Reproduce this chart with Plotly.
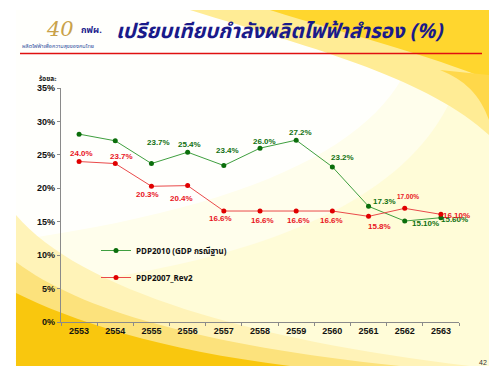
import plotly.graph_objects as go

# ---------------- data ----------------
years = ["2553", "2554", "2555", "2556", "2557", "2558", "2559", "2560", "2561", "2562", "2563"]
pdp2010 = [28.1, 27.1, 23.7, 25.4, 23.4, 26.0, 27.2, 23.2, 17.3, 15.10, 15.60]
pdp2007 = [24.0, 23.7, 20.3, 20.4, 16.6, 16.6, 16.6, 16.6, 15.8, 17.00, 16.10]
pdp2010_labels = ["", "", "23.7%", "25.4%", "23.4%", "26.0%", "27.2%", "23.2%", "17.3%", "15.10%", "15.60%"]
pdp2007_labels = ["24.0%", "23.7%", "20.3%", "20.4%", "16.6%", "16.6%", "16.6%", "16.6%", "15.8%", "17.00%", "16.10%"]
series_names = ["PDP2010 (GDP กรณีฐาน)", "PDP2007_Rev2"]
y_ticks = [0, 5, 10, 15, 20, 25, 30, 35]
y_ticktext = [f"{v}%" for v in y_ticks]

# ---------------- style ----------------
OFF = 8                      # page body margin of the browser
W, H = 500 - OFF, 372 - OFF
L, R, T, B = 61, 459, 88, 322   # plot area in screen pixels
GREEN_LINE, GREEN_MK, GREEN_TXT = "#3f9f3f", "#0b6e0b", "#117011"
RED_LINE, RED_MK, RED_TXT = "#ea4a4a", "#e00000", "#e8141e"
LBL_FONT = "Liberation Sans, Arial, sans-serif"
THAI_FONT = "Noto Sans Thai, Tahoma, Loma, Garuda, DejaVu Sans, sans-serif"

# label offsets in pixels (xshift, yshift)
g_off = [(0, 0), (0, 0), (7, 21), (2, 8), (4, 15), (4, 7), (4, 8), (10, 9), (16, 5), (21, -2), (14, -2)]
r_off = [(2, 8), (6, 7), (-4, -8), (-6, -13), (-3, -7), (2, -9), (2, -9), (-1, -9), (11, -10), (3, 12), (16, -1)]
r_size = [8, 8, 8, 8, 8, 8, 8, 8, 8, 6.5, 8]


def px(x):
    return (x - L) / (R - L)


def py(y):
    return (B - y) / (B - T)


def path(cmds):
    out = []
    for c, pts in cmds:
        out.append(c + " ".join(f"{px(x):.4f},{py(y):.4f}" for x, y in pts))
    return " ".join(out) + " Z"


fig = go.Figure()

fig.add_trace(go.Scatter(
    x=years, y=pdp2010, mode="lines+markers", name=series_names[0],
    line=dict(color=GREEN_LINE, width=1), marker=dict(color=GREEN_MK, size=5),
    legendgroup="a", cliponaxis=False,
))
fig.add_trace(go.Scatter(
    x=years, y=pdp2007, mode="lines+markers", name=series_names[1],
    line=dict(color=RED_LINE, width=1), marker=dict(color=RED_MK, size=5),
    legendgroup="b", cliponaxis=False,
))

annotations = []
for i in range(len(years)):
    if pdp2010_labels[i]:
        annotations.append(dict(
            x=i, y=pdp2010[i], xref="x", yref="y", text=pdp2010_labels[i], showarrow=False,
            xanchor="center", yanchor="middle",
            xshift=g_off[i][0], yshift=g_off[i][1],
            font=dict(family=LBL_FONT, size=8, color=GREEN_TXT, weight="bold")))
    annotations.append(dict(
        x=i, y=pdp2007[i], xref="x", yref="y", text=pdp2007_labels[i], showarrow=False,
        xanchor="center", yanchor="middle",
        xshift=r_off[i][0], yshift=r_off[i][1],
        font=dict(family=LBL_FONT, size=r_size[i], color=RED_TXT, weight="bold")))


def ptext(x, y, text, font):
    return dict(x=px(x), y=py(y), xref="paper", yref="paper", text=text, showarrow=False,
                xanchor="center", yanchor="middle", font=font)


annotations += [
    ptext(280, 32, "<b><i>เปรียบเทียบกำลังผลิตไฟฟ้าสำรอง (%)</i></b>",
          dict(family=THAI_FONT, size=20.5, color="#1a1a8a")),
    ptext(60, 29, "<i>40</i>", dict(family="DejaVu Serif, serif", size=21, color="#c9a24a")),
    ptext(91, 30, "<b>กฟผ.</b>", dict(family=THAI_FONT, size=9, color="#1c1c8c")),
    ptext(58, 46, "ผลิตไฟฟ้าเพื่อความสุขของคนไทย", dict(family=THAI_FONT, size=5.5, color="#3050a0")),
    ptext(48, 79, "<b>ร้อยละ</b>", dict(family=THAI_FONT, size=6.5, color="#222")),
    ptext(483, 362, "42", dict(family=LBL_FONT, size=7, color="#333")),
]

shapes = [
    # slide background
    dict(type="rect", xref="paper", yref="paper", x0=px(16), x1=px(489), y0=py(366), y1=py(10),
         fillcolor="#fffcd8", line_width=0, layer="below"),
    # white wash over upper-left
    dict(type="path", xref="paper", yref="paper", layer="below", line_width=0, fillcolor="rgba(255,255,255,0.85)",
         path=path([("M", [(16, 10)]), ("L", [(420, 10)]), ("C", [(420, 120), (300, 200), (16, 240)])])),
    dict(type="path", xref="paper", yref="paper", layer="below", line_width=0, fillcolor="rgba(255,255,255,0.5)",
         path=path([("M", [(16, 10)]), ("L", [(470, 10)]), ("C", [(470, 180), (300, 260), (16, 290)])])),
    # top right gold
    dict(type="path", xref="paper", yref="paper", layer="below", line_width=0, fillcolor="#ffec95",
         path=path([("M", [(190, 10)]), ("L", [(489, 10)]), ("L", [(489, 135)]), ("C", [(430, 80), (320, 50), (190, 10)])])),
    dict(type="path", xref="paper", yref="paper", layer="below", line_width=0, fillcolor="#ffd62e",
         path=path([("M", [(270, 10)]), ("L", [(489, 10)]), ("L", [(489, 80)]), ("C", [(430, 55), (350, 35), (270, 10)])])),
    dict(type="path", xref="paper", yref="paper", layer="below", line_width=0, fillcolor="#ffd84a",
         path=path([("M", [(440, 70)]), ("C", [(465, 80), (480, 95), (489, 120)]), ("L", [(489, 75)])])),
    # lower-left swooshes
    dict(type="path", xref="paper", yref="paper", layer="below", line_width=0, fillcolor="#fff3b8",
         path=path([("M", [(16, 215)]), ("C", [(80, 290), (250, 340), (470, 366)]), ("L", [(16, 366)])])),
    dict(type="path", xref="paper", yref="paper", layer="below", line_width=0, fillcolor="#fce27c",
         path=path([("M", [(16, 262)]), ("C", [(80, 310), (200, 345), (400, 366)]), ("L", [(16, 366)])])),
    dict(type="path", xref="paper", yref="paper", layer="below", line_width=0, fillcolor="#f9c70e",
         path=path([("M", [(16, 293)]), ("C", [(70, 320), (160, 350), (290, 366)]), ("L", [(16, 366)])])),
    # red header line
    dict(type="line", xref="paper", yref="paper", x0=px(20), x1=px(482), y0=py(53.5), y1=py(53.5),
         line=dict(color="#e01010", width=1.6), layer="below"),
]

fig.update_layout(
    width=W, height=H,
    margin=dict(l=L - OFF, r=W - (R - OFF), t=T - OFF, b=H - (B - OFF)),
    paper_bgcolor="white", plot_bgcolor="rgba(0,0,0,0)",
    showlegend=True,
    legend=dict(x=px(96), y=py(236), xanchor="left", yanchor="top", bgcolor="rgba(0,0,0,0)",
                font=dict(family=THAI_FONT, size=8, color="#111", weight="bold"),
                tracegroupgap=8, itemwidth=30),
    xaxis=dict(type="category", range=[-0.5, len(years) - 0.5], showline=True, linecolor="#8a8a8a",
               linewidth=1.2, ticks="outside", tickson="boundaries", ticklen=3, tickcolor="#8a8a8a",
               showgrid=False, tickangle=0,
               tickfont=dict(family=LBL_FONT, size=9, color="#111", weight="bold")),
    yaxis=dict(range=[0, 35], tickvals=y_ticks, ticktext=y_ticktext, showline=True, linecolor="#8a8a8a",
               linewidth=1.2, ticks="outside", ticklen=3, tickcolor="#8a8a8a", showgrid=False, zeroline=False,
               tickfont=dict(family=LBL_FONT, size=9, color="#111", weight="bold")),
    annotations=annotations,
    shapes=shapes,
)

fig.write_html("out.html")
